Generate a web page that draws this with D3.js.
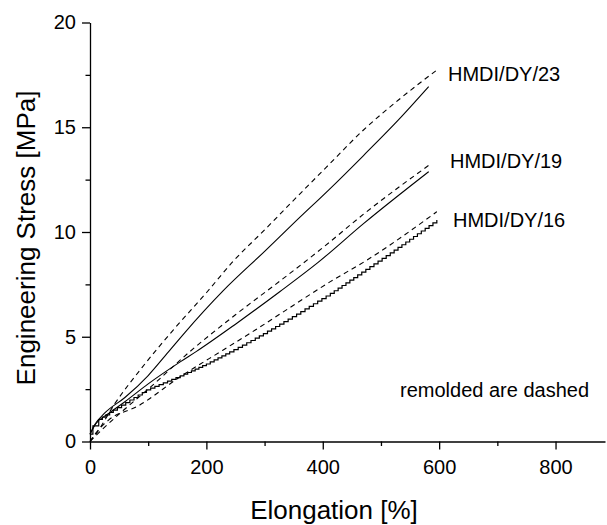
<!DOCTYPE html>
<html>
<head>
<meta charset="utf-8">
<script src="https://cdn.jsdelivr.net/npm/d3@7"></script>
<style>
    body { margin: 0; background: #fff; }
    svg { display: block; font-family: "Liberation Sans", Arial, Helvetica, sans-serif; }
    .axis text { font-size: 20px; fill: #000; }
    .axis path, .axis line { stroke: #000; stroke-width: 1.3; }
</style>
</head>
<body>
<div id="chart"></div>
<script>
// elongation [%] and engineering stress [MPa]
const elong23 = [0, 8, 25, 60, 100, 137, 163, 229, 301, 355, 410, 470, 530, 582]
const stress23 = [0.35, 0.8, 1.35, 2.1, 3.15, 4.35, 5.2, 7.2, 9.1, 10.55, 12.0, 13.65, 15.35, 16.94]
const elong23r = [0, 10, 43, 90, 143, 200, 246, 300, 344, 410, 470, 530, 596]
const stress23r = [0, 0.35, 1.82, 3.55, 5.32, 7.1, 8.6, 10.1, 11.35, 13.2, 14.87, 16.3, 17.73]

const elong19 = [0, 10, 30, 60, 100, 155, 183, 250, 326, 392, 470, 582]
const stress19 = [0.35, 0.85, 1.3, 1.9, 2.75, 3.8, 4.3, 5.6, 7.15, 8.55, 10.4, 12.88]
const elong19r = [0, 20, 60, 100, 172, 250, 326, 400, 470, 587]
const stress19r = [0, 0.55, 1.55, 2.5, 4.3, 6.05, 7.65, 9.25, 10.85, 13.28]

const elong16 = [0, 5, 15, 40, 97, 155, 200, 240, 284, 326, 355, 413, 460, 516, 596]
const stress16 = [0.35, 0.75, 1.05, 1.5, 2.46, 3.13, 3.7, 4.28, 4.93, 5.6, 6.08, 7.07, 7.95, 9.0, 10.57]
const elong16r = [0, 10, 31, 83, 155, 229, 284, 355, 413, 476, 540, 596]
const stress16r = [0, 0.4, 1.0, 1.7, 3.09, 4.37, 5.32, 6.6, 7.63, 8.66, 9.85, 10.97]

const seriesNames = ["HMDI/DY/23", "HMDI/DY/19", "HMDI/DY/16"]

const xMajor = [0, 200, 400, 600, 800]
const xMinor = [100, 300, 500, 700]
const yMajor = [0, 5, 10, 15, 20]
const yMinor = [2.5, 7.5, 12.5, 17.5]

const zip = (xs, ys) => xs.map((x, i) => ({ x, y: ys[i] }))

const series = [
    { name: seriesNames[0], data: zip(elong23, stress23), dashed: false },
    { name: seriesNames[0], data: zip(elong23r, stress23r), dashed: true },
    { name: seriesNames[1], data: zip(elong19, stress19), dashed: false },
    { name: seriesNames[1], data: zip(elong19r, stress19r), dashed: true },
    { name: seriesNames[2], data: zip(elong16, stress16), dashed: false, stairs: true },
    { name: seriesNames[2], data: zip(elong16r, stress16r), dashed: true }
]

const width = 607, height = 525
const margin = { top: 22.5, right: 2, bottom: 83.5, left: 90 }

const svg = d3.select("#chart").append("svg")
    .attr("width", width)
    .attr("height", height)

const x = d3.scaleLinear()
    .domain([0, 885])
    .range([margin.left, width - margin.right])

const y = d3.scaleLinear()
    .domain([0, 20])
    .range([height - margin.bottom, margin.top])

// the /16 sample was logged with coarse steps, draw it as a small staircase
const stairCurve = (context) => {
    let pts = []
    return {
        areaStart() {}, areaEnd() {},
        lineStart() { pts = [] },
        point(px, py) { pts.push([+px, +py]) },
        lineEnd() {
            if (!pts.length) return
            context.moveTo(pts[0][0], pts[0][1])
            let lastY = pts[0][1]
            for (let i = 0; i < pts.length - 1; i++) {
                const [x0, y0] = pts[i], [x1, y1] = pts[i + 1]
                const n = Math.max(1, Math.round((x1 - x0) / 4))
                for (let k = 1; k <= n; k++) {
                    const xx = x0 + (x1 - x0) * k / n
                    const yy = y0 + (y1 - y0) * k / n
                    context.lineTo(xx, lastY)
                    context.lineTo(xx, yy)
                    lastY = yy
                }
            }
        }
    }
}

const line = d3.line().x(d => x(d.x)).y(d => y(d.y)).curve(d3.curveMonotoneX)
const stairLine = d3.line().x(d => x(d.x)).y(d => y(d.y)).curve(stairCurve)

svg.append("g")
    .selectAll("path")
    .data(series)
    .join("path")
    .attr("fill", "none")
    .attr("stroke", "#000")
    .attr("stroke-width", d => d.stairs ? 1.2 : 1.1)
    .attr("stroke-dasharray", d => d.dashed ? "5,4" : null)
    .attr("d", d => d.stairs ? stairLine(d.data) : line(d.data))

// axes
svg.append("g")
    .attr("class", "axis")
    .attr("transform", `translate(0,${y(0)})`)
    .call(d3.axisBottom(x).tickValues(xMajor).tickSize(8).tickPadding(10).tickSizeOuter(0))

svg.append("g")
    .attr("class", "axis")
    .attr("transform", `translate(0,${y(0)})`)
    .call(d3.axisBottom(x).tickValues(xMinor).tickSize(4.5).tickFormat(""))
    .call(g => g.select(".domain").remove())

svg.append("g")
    .attr("class", "axis")
    .attr("transform", `translate(${x(0)},0)`)
    .call(d3.axisLeft(y).tickValues(yMajor).tickSize(8).tickPadding(6).tickSizeOuter(0))

svg.append("g")
    .attr("class", "axis")
    .attr("transform", `translate(${x(0)},0)`)
    .call(d3.axisLeft(y).tickValues(yMinor).tickSize(4.5).tickFormat(""))
    .call(g => g.select(".domain").remove())

// axis titles
svg.append("text")
    .attr("x", 334)
    .attr("y", 519)
    .attr("text-anchor", "middle")
    .attr("font-size", 26)
    .text("Elongation [%]")

svg.append("text")
    .attr("transform", "translate(35,238) rotate(-90)")
    .attr("text-anchor", "middle")
    .attr("font-size", 26)
    .text("Engineering Stress [MPa]")

// curve labels, placed next to the end of each pair
const labelPos = [
    { name: seriesNames[0], x: 448, y: 81 },
    { name: seriesNames[1], x: 450, y: 168 },
    { name: seriesNames[2], x: 453, y: 227 }
]
svg.append("g")
    .selectAll("text")
    .data(labelPos)
    .join("text")
    .attr("x", d => d.x)
    .attr("y", d => d.y)
    .attr("font-size", 20)
    .text(d => d.name)

svg.append("text")
    .attr("x", 400)
    .attr("y", 397)
    .attr("font-size", 20)
    .text("remolded are dashed")
</script>
</body>
</html>
